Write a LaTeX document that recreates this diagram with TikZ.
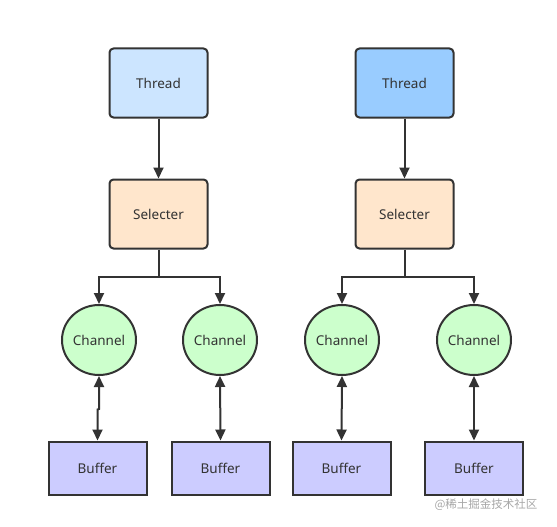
\documentclass[tikz,border=0pt]{standalone}
\usepackage{fontspec}
\setmainfont{Noto Sans}
\newfontfamily\cjk{Noto Sans CJK SC}
\usetikzlibrary{arrows.meta,shapes.geometric,calc}
\definecolor{linec}{HTML}{333333}
\definecolor{threadA}{HTML}{CCE5FF}
\definecolor{threadB}{HTML}{99CCFF}
\definecolor{selc}{HTML}{FFE6CC}
\definecolor{chanc}{HTML}{CCFFCC}
\definecolor{bufc}{HTML}{CCCCFF}
\begin{document}
\begin{tikzpicture}[x=1pt,y=-1pt,
  every node/.style={font=\fontsize{13.5}{15}\selectfont, text=linec},
  box/.style={draw=linec, line width=2pt, rounded corners=4pt, minimum width=98pt, minimum height=69pt, inner sep=0pt},
  chan/.style={draw=linec, line width=2pt, ellipse, fill=chanc, minimum width=74pt, minimum height=70pt, inner sep=0pt},
  buf/.style={draw=linec, line width=2pt, fill=bufc, minimum width=98pt, minimum height=53pt, inner sep=0pt},
  conn/.style={draw=linec, line width=2pt, -{Triangle[length=11pt,width=10pt]}},
  dconn/.style={draw=linec, line width=2pt, {Triangle[length=11pt,width=10pt]}-{Triangle[length=11pt,width=10pt]}}]
\useasboundingbox (0,0) rectangle (557,527);
% left group
\node[box, fill=threadA] (t1) at (158.5,83) {Thread};
\node[box, fill=selc] (s1) at (158.5,214) {Selecter};
\node[chan] (c1) at (99,340) {Channel};
\node[chan] (c2) at (220,340) {Channel};
\node[buf] (b1) at (97.5,468) {Buffer};
\node[buf] (b2) at (220.5,468) {Buffer};
% right group
\node[box, fill=threadB] (t2) at (404.5,83) {Thread};
\node[box, fill=selc] (s2) at (404.5,214) {Selecter};
\node[chan] (c3) at (342,340) {Channel};
\node[chan] (c4) at (474,340) {Channel};
\node[buf] (b3) at (341.5,468) {Buffer};
\node[buf] (b4) at (474,468) {Buffer};
% connectors
\draw[conn] (t1.south) -- (s1.north);
\draw[conn] (t2.south) -- (s2.north);
\coordinate (j1) at (158.5,277);
\coordinate (j2) at (404.5,277);
\draw[conn] (s1.south) -- (j1) -| (c1.north);
\draw[conn] (j1) -| (c2.north);
\draw[conn] (s2.south) -- (j2) -| (c3.north);
\draw[conn] (j2) -| (c4.north);
\draw[dconn] (c1.south) -- ($(c1.south)+(0,33)$) -- ($(b1.north)+(0,-31)$) -- (b1.north);
\draw[dconn] (c2.south) -- (b2.north);
\draw[dconn] (c3.south) -- (b3.north);
\draw[dconn] (c4.south) -- (b4.north);
% watermark
\node[anchor=east, font=\cjk\fontsize{11.5}{13}\selectfont, text=black!35] (wm) at (541,505) {@稀土掘金技术社区};
\end{tikzpicture}
\end{document}
